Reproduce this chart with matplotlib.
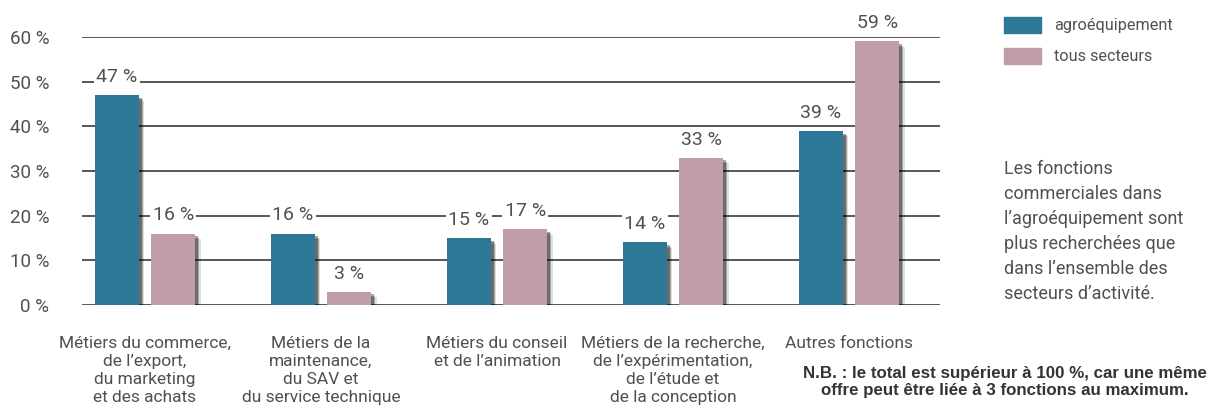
import numpy as np
import matplotlib
matplotlib.use("Agg")
import matplotlib.pyplot as plt
import matplotlib.patheffects as pe
from matplotlib.patches import Patch

categories = [
    "Métiers du commerce,\nde l’export,\ndu marketing\net des achats",
    "Métiers de la\nmaintenance,\ndu SAV et\ndu service technique",
    "Métiers du conseil\net de l’animation",
    "Métiers de la recherche,\nde l’expérimentation,\nde l’étude et\nde la conception",
    "Autres fonctions",
]
agro = [47, 16, 15, 14, 39]
tous = [16, 3, 17, 33, 59]
series_names = ["agroéquipement", "tous secteurs"]
yticks = [0, 10, 20, 30, 40, 50, 60]
ytick_labels = ["0 %", "10 %", "20 %", "30 %", "40 %", "50 %", "60 %"]

note = ("Les fonctions\ncommerciales dans\nl’agroéquipement sont\n"
        "plus recherchées que\ndans l’ensemble des\nsecteurs d’activité.")
nb = ("N.B. : le total est supérieur à 100 %, car une même\n"
      "offre peut être liée à 3 fonctions au maximum.")

teal = "#2d7896"
pink = "#c09ea8"
txt = "#505050"
grid = "#4e4646"

plt.rcParams['font.family'] = ['Roboto', 'DejaVu Sans']

fig = plt.figure(figsize=(12.18, 4.08), dpi=100)
ax = fig.add_axes([82/1218, 1 - 305/408, (940-82)/1218, (305-37)/408])

x = np.arange(len(categories))
w = 0.25
off = 0.16

shadow = [pe.SimplePatchShadow(offset=(4, -4), shadow_rgbFace='#000000', alpha=0.12),
          pe.SimplePatchShadow(offset=(3, -3), shadow_rgbFace='#000000', alpha=0.25),
          pe.SimplePatchShadow(offset=(2, -2), shadow_rgbFace='#000000', alpha=0.35),
          pe.Normal()]

b1 = ax.bar(x - off, agro, w, color=teal, zorder=3)
b2 = ax.bar(x + off, tous, w, color=pink, zorder=3)
for b in list(b1) + list(b2):
    b.set_path_effects(shadow)

for xs, vals in [(x - off, agro), (x + off, tous)]:
    for xi, v in zip(xs, vals):
        ax.annotate(f"{v} %", (xi, v), xytext=(0, 13), textcoords='offset points',
                    ha='center', va='center', fontsize=14, color=txt, zorder=5,
                    bbox=dict(fc='white', ec='none', pad=1.5), annotation_clip=False)

ax.set_xlim(-0.358, 4.517)
ax.set_ylim(0, 60)
ax.set_yticks(yticks)
ax.set_yticklabels(ytick_labels, fontsize=13.5, color=txt)
ax.set_xticks(x)
ax.set_xticklabels(categories, fontsize=12.5, color=txt, linespacing=1.26)
ax.tick_params(axis='y', length=0, pad=23.5)
ax.tick_params(axis='x', length=0, pad=22)
ax.yaxis.grid(True, color=grid, lw=1.3)
ax.set_axisbelow(True)
for s in ax.spines.values():
    s.set_visible(False)

handles = [Patch(color=teal), Patch(color=pink)]
fig.legend(handles, series_names, loc='upper left', bbox_to_anchor=(989/1218, 1 - 2/408),
           frameon=False, fontsize=11.7, handlelength=2.3, handleheight=1.15,
           labelspacing=0.9, handletextpad=0.8, labelcolor=txt)

fig.text(1004/1218, 1 - 160/408, note, fontsize=13, color=txt, ha='left', va='top',
         linespacing=1.5)
fig.text(1005/1218, 1 - 366/408, nb, fontsize=12.2, color='#333333', ha='center', va='top',
         family=['Liberation Sans', 'DejaVu Sans'], weight='bold', linespacing=1.2)

fig.savefig("out.png", dpi=100)
